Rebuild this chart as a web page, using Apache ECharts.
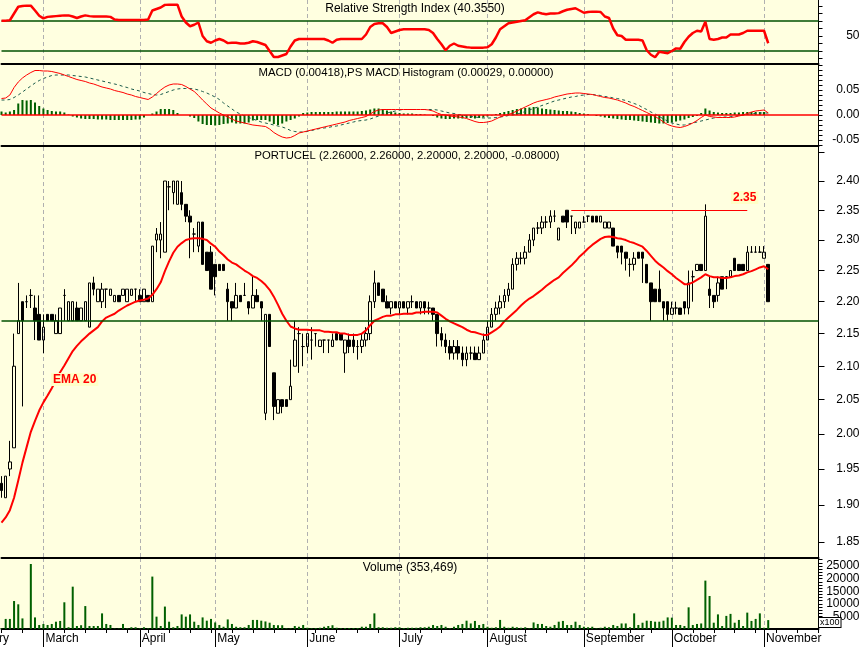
<!DOCTYPE html>
<html><head><meta charset="utf-8">
<script src="https://cdn.jsdelivr.net/npm/echarts@6/dist/echarts.min.js"></script>
<style>html,body{margin:0;padding:0;background:#fff}#c{width:864px;height:647px}</style>
</head><body><div id="c"></div>
<script>
// ---- calendar (trading days per month shown) ----
const monthNames = ['February','March','April','May','June','July','August','September','October','November'];
const monthDays  = [10,23,18,22,22,21,23,21,22,14];

// ---- price data (one value per trading day) ----
const opens = [1.93,1.91,1.95,1.98,2.15,2.20,2.20,2.21,2.19,2.18,
2.14,2.18,2.18,2.15,2.15,2.21,2.17,2.17,2.19,2.17,
2.17,2.16,2.23,2.20,2.20,2.22,2.21,2.20,2.21,2.21,
2.20,2.21,2.22,2.21,2.20,2.21,2.20,2.30,2.30,2.28,
2.39,2.38,2.36,2.38,2.36,2.34,2.31,2.29,2.33,2.28,
2.28,2.26,2.26,2.26,2.22,2.20,2.19,2.21,2.21,2.20,
2.19,2.21,2.20,2.03,2.18,2.09,2.03,2.05,2.05,2.05,
2.10,2.15,2.13,2.13,2.14,2.15,2.13,2.14,2.14,2.13,
2.15,2.15,2.12,2.14,2.14,2.13,2.13,2.14,2.15,2.20,
2.23,2.22,2.20,2.19,2.20,2.19,2.20,2.19,2.20,2.20,
2.19,2.20,2.19,2.19,2.18,2.15,2.14,2.13,2.12,2.13,
2.12,2.11,2.12,2.12,2.11,2.12,2.14,2.16,2.18,2.19,
2.20,2.21,2.22,2.26,2.27,2.27,2.28,2.30,2.32,2.32,
2.33,2.33,2.34,2.30,2.34,2.35,2.34,2.32,2.32,2.33,
2.34,2.34,2.34,2.33,2.32,2.32,2.32,2.29,2.29,2.28,
2.26,2.26,2.28,2.28,2.26,2.23,2.22,2.22,2.20,2.20,
2.18,2.19,2.19,2.20,2.19,2.24,2.25,2.26,2.25,2.22,
2.21,2.21,2.24,2.24,2.24,2.27,2.26,2.26,2.25,2.28,
2.28,2.28,2.27,2.26];
const highs = [1.94,1.94,1.99,2.15,2.23,2.20,2.21,2.22,2.21,2.21,
2.18,2.18,2.18,2.18,2.19,2.22,2.20,2.20,2.20,2.19,
2.20,2.23,2.24,2.22,2.23,2.22,2.22,2.21,2.21,2.22,
2.22,2.22,2.22,2.22,2.22,2.21,2.29,2.32,2.33,2.40,
2.40,2.40,2.40,2.40,2.36,2.35,2.32,2.33,2.33,2.28,
2.29,2.26,2.26,2.26,2.23,2.20,2.23,2.21,2.23,2.20,
2.24,2.22,2.20,2.18,2.18,2.09,2.05,2.05,2.05,2.11,
2.17,2.16,2.15,2.15,2.16,2.15,2.14,2.14,2.14,2.15,
2.15,2.15,2.14,2.15,2.15,2.14,2.15,2.16,2.21,2.25,
2.23,2.22,2.21,2.20,2.20,2.20,2.20,2.20,2.21,2.20,
2.20,2.20,2.20,2.19,2.18,2.16,2.15,2.14,2.14,2.14,
2.13,2.13,2.13,2.13,2.13,2.15,2.17,2.19,2.20,2.21,
2.22,2.23,2.27,2.28,2.28,2.29,2.31,2.32,2.33,2.34,
2.34,2.35,2.35,2.32,2.34,2.35,2.34,2.33,2.33,2.34,
2.34,2.34,2.34,2.34,2.33,2.33,2.32,2.29,2.29,2.28,
2.27,2.28,2.28,2.28,2.26,2.23,2.22,2.25,2.20,2.20,
2.20,2.20,2.19,2.20,2.25,2.25,2.26,2.26,2.36,2.24,
2.21,2.24,2.24,2.24,2.25,2.27,2.26,2.26,2.29,2.29,
2.29,2.29,2.29,2.26];
const lows = [1.91,1.91,1.94,1.98,2.15,2.04,2.19,2.19,2.14,2.14,
2.12,2.17,2.17,2.15,2.15,2.17,2.17,2.17,2.17,2.17,
2.17,2.16,2.21,2.20,2.19,2.19,2.21,2.20,2.20,2.21,
2.20,2.21,2.20,2.20,2.20,2.20,2.20,2.28,2.27,2.28,
2.35,2.36,2.36,2.35,2.33,2.27,2.28,2.28,2.26,2.25,
2.22,2.21,2.25,2.25,2.17,2.17,2.19,2.20,2.21,2.18,
2.19,2.20,2.17,2.02,2.13,2.02,2.03,2.03,2.04,2.05,
2.10,2.09,2.10,2.12,2.11,2.13,2.13,2.12,2.12,2.13,
2.14,2.14,2.09,2.12,2.12,2.11,2.12,2.13,2.14,2.19,
2.21,2.20,2.19,2.18,2.19,2.18,2.19,2.18,2.19,2.19,
2.18,2.18,2.18,2.17,2.13,2.13,2.12,2.11,2.11,2.11,
2.10,2.10,2.11,2.11,2.11,2.12,2.14,2.16,2.17,2.18,
2.19,2.20,2.22,2.25,2.26,2.26,2.28,2.29,2.31,2.31,
2.32,2.32,2.33,2.30,2.33,2.32,2.31,2.31,2.32,2.33,
2.33,2.33,2.33,2.33,2.32,2.32,2.29,2.27,2.26,2.25,
2.24,2.25,2.27,2.23,2.23,2.17,2.20,2.20,2.17,2.17,
2.18,2.18,2.18,2.18,2.18,2.20,2.25,2.25,2.25,2.19,
2.19,2.20,2.22,2.22,2.24,2.25,2.25,2.25,2.25,2.28,
2.28,2.28,2.27,2.20];
const closes = [1.92,1.94,1.96,2.10,2.17,2.17,2.20,2.21,2.17,2.14,
2.16,2.17,2.17,2.17,2.19,2.21,2.20,2.20,2.17,2.19,
2.20,2.23,2.22,2.22,2.22,2.22,2.22,2.21,2.20,2.22,
2.22,2.22,2.22,2.20,2.22,2.20,2.29,2.31,2.31,2.40,
2.39,2.40,2.40,2.36,2.34,2.33,2.31,2.33,2.26,2.25,
2.22,2.24,2.25,2.25,2.20,2.19,2.21,2.20,2.21,2.19,
2.21,2.20,2.19,2.18,2.13,2.04,2.05,2.04,2.04,2.07,
2.14,2.15,2.13,2.15,2.14,2.15,2.14,2.14,2.14,2.14,
2.14,2.14,2.14,2.13,2.13,2.13,2.14,2.15,2.20,2.23,
2.21,2.20,2.19,2.20,2.19,2.20,2.19,2.20,2.20,2.19,
2.20,2.19,2.19,2.18,2.15,2.14,2.13,2.12,2.13,2.12,
2.11,2.12,2.12,2.11,2.12,2.14,2.16,2.18,2.19,2.20,
2.21,2.22,2.26,2.27,2.27,2.28,2.30,2.32,2.32,2.33,
2.33,2.34,2.34,2.32,2.33,2.33,2.34,2.33,2.33,2.33,
2.34,2.33,2.33,2.34,2.33,2.33,2.29,2.28,2.28,2.27,
2.26,2.27,2.27,2.27,2.23,2.20,2.20,2.20,2.19,2.18,
2.19,2.19,2.18,2.19,2.23,2.24,2.26,2.25,2.34,2.21,
2.20,2.23,2.22,2.24,2.25,2.25,2.25,2.25,2.28,2.28,
2.28,2.28,2.28,2.20];
const ema20 = [1.876,1.883,1.893,1.910,1.934,1.959,1.981,2.003,2.019,2.034,
2.046,2.056,2.067,2.079,2.091,2.101,2.112,2.123,2.131,2.138,
2.144,2.150,2.155,2.160,2.169,2.175,2.178,2.181,2.186,2.190,
2.194,2.197,2.200,2.202,2.203,2.205,2.211,2.220,2.231,2.249,
2.265,2.279,2.289,2.295,2.300,2.302,2.303,2.303,2.302,2.300,
2.294,2.289,2.281,2.275,2.268,2.263,2.260,2.255,2.250,2.246,
2.241,2.238,2.233,2.227,2.219,2.208,2.195,2.181,2.170,2.161,
2.158,2.156,2.156,2.156,2.155,2.155,2.155,2.153,2.153,2.152,
2.152,2.150,2.150,2.148,2.148,2.148,2.150,2.155,2.163,2.170,
2.173,2.176,2.178,2.178,2.180,2.180,2.181,2.181,2.181,2.183,
2.183,2.184,2.184,2.184,2.183,2.178,2.173,2.169,2.166,2.163,
2.160,2.156,2.153,2.152,2.150,2.148,2.148,2.152,2.156,2.161,
2.169,2.175,2.181,2.187,2.194,2.200,2.205,2.209,2.214,2.219,
2.225,2.230,2.235,2.239,2.246,2.252,2.258,2.265,2.273,2.279,
2.286,2.292,2.297,2.302,2.305,2.306,2.305,2.303,2.302,2.300,
2.297,2.295,2.292,2.289,2.282,2.274,2.266,2.260,2.255,2.249,
2.244,2.238,2.233,2.228,2.228,2.231,2.235,2.239,2.244,2.241,
2.239,2.239,2.238,2.238,2.239,2.241,2.242,2.244,2.247,2.249,
2.252,2.255,2.257,2.252];
const volumes = [300,4000,4000,11100,9800,4200,100,25800,4600,1600,
2000,1600,2000,2900,3200,10600,700,16800,1200,1500,
9100,1200,1200,1200,6200,2000,1600,200,200,2000,
300,700,700,300,700,300,20800,4900,1200,8900,
2900,700,1200,5800,4900,5800,2900,1600,4600,3300,
4000,2600,1600,900,3800,2000,900,700,700,1600,
3600,3600,3300,3000,2500,1600,1500,1500,300,300,
1200,900,1600,500,300,400,500,900,1200,1500,
500,300,400,400,400,400,900,900,2000,6200,
700,700,500,500,700,700,400,500,500,500,
700,700,900,1600,1200,1600,900,300,900,1600,
2000,3300,2200,3200,1600,2000,900,500,700,3600,
900,500,900,700,500,700,300,2600,2000,2000,
1200,900,1600,2900,3200,1600,1600,2900,1600,900,
700,900,300,500,900,700,1600,1200,2200,2200,
700,6200,1600,2500,3300,3200,2900,2900,3300,4600,
4500,1600,1600,1200,8600,1600,2000,2200,19200,13100,
2500,5800,1200,5200,6000,2500,3600,1200,6500,3200,
4000,6200,500,3535];

// ---- indicators ----
const rsi = [70.5,70.5,71,80,89,90,90.5,90.5,84,77,
73.5,75.5,76,76.5,77,77.5,77.5,76,74,76,
77.5,76.5,76,76,76,76,75.5,72,71.3,71.3,
71.3,71.3,71.3,71.3,71.3,72,84,86,88,91.5,
91.8,91.8,91.8,76,68,63,65,68,50,43,
41,44,46,44,40.5,41,41,40,40,41,
43,42,40,38,30,22,22,24,26,36,
44,46,46,46,46,46,46,46,44,41,
45,46,46,46,46,46,46,52,62,66,
67,67,62,54,56,58,59,59,59,59,
59,59,58,54,46,39,31,37,40,37,
36,35,34.5,34.5,34.5,34.5,35,39,48,59,
63,67,68,69,70,71,75,79,81.5,80,
79,80,80,80.5,83,85,86,87,84,81,
82,82.5,82.5,82,76,74,60,51,50,45,
45,45,45,44,31,25,21.6,29,28,27,
30,33.5,33,42,49,54,57,56,69,46,
45,46,48,48,52,52,52,54,57,57,
57,57,57,40.355];
const macd = [.033,.034,.040,.055,.066,.074,.080,.085,.089,.089,
.088,.088,.087,.085,.083,.080,.077,.074,.071,.069,
.067,.064,.062,.059,.056,.054,.052,.049,.047,.045,
.042,.040,.037,.035,.033,.031,.036,.043,.050,.056,
.060,.062,.062,.061,.057,.052,.047,.039,.030,.022,
.014,.009,.004,.000,-.004,-.008,-.012,-.014,-.016,-.018,
-.020,-.021,-.022,-.023,-.028,-.035,-.040,-.044,-.046,-.045,
-.041,-.036,-.034,-.032,-.030,-.028,-.026,-.024,-.022,-.020,
-.018,-.016,-.014,-.011,-.009,-.007,-.005,-.003,.002,.007,
.010,.011,.011,.011,.011,.011,.011,.011,.011,.011,
.011,.011,.010,.008,.004,.001,.000,-.002,-.003,-.004,
-.005,-.007,-.010,-.013,-.015,-.015,-.014,-.012,-.008,-.004,
-.001,.001,.004,.008,.012,.016,.020,.024,.027,.029,
.031,.033,.036,.038,.040,.042,.043,.044,.044,.043,
.042,.041,.039,.037,.035,.034,.032,.030,.027,.024,
.020,.017,.013,.009,.005,.001,-.003,-.008,-.014,-.019,
-.022,-.024,-.025,-.023,-.020,-.016,-.011,-.005,.000,-.003,
-.004,-.005,-.005,-.005,-.005,-.004,-.002,.000,.003,.006,
.008,.009,.010,.00418];
const macdSignal = [.030,.030,.031,.035,.040,.046,.052,.058,.064,.069,
.073,.076,.079,.080,.080,.080,.080,.079,.078,.077,
.076,.074,.072,.070,.068,.066,.064,.062,.060,.057,
.055,.052,.050,.048,.045,.043,.041,.040,.041,.044,
.047,.050,.052,.053,.053,.053,.052,.050,.047,.044,
.040,.036,.031,.024,.018,.012,.006,.002,-.002,-.005,
-.008,-.011,-.014,-.016,-.018,-.020,-.022,-.024,-.027,-.031,
-.033,-.034,-.034,-.033,-.031,-.029,-.027,-.026,-.025,-.023,
-.022,-.020,-.018,-.016,-.014,-.012,-.011,-.010,-.008,-.005,
-.002,.002,.004,.006,.008,.010,.011,.011,.011,.011,
.011,.011,.011,.011,.010,.008,.006,.004,.003,.001,
.000,-.002,-.003,-.004,-.005,-.006,-.006,-.006,-.005,-.004,
-.003,-.001,.000,.002,.004,.007,.010,.013,.016,.019,
.022,.025,.028,.030,.032,.034,.036,.037,.039,.040,
.041,.041,.040,.039,.037,.036,.034,.033,.031,.029,
.026,.023,.020,.015,.011,.006,.002,-.003,-.008,-.012,
-.016,-.018,-.020,-.020,-.018,-.016,-.014,-.012,-.010,-.008,
-.006,-.005,-.004,-.004,-.003,-.002,-.001,.000,.001,.003,
.003,.004,.004,.0039];
const macdHist = [.007,.005,.007,.010,.023,.030,.029,.030,.025,.018,
.013,.010,.008,.007,.007,.005,.001,-.003,-.005,-.007,
-.008,-.008,-.008,-.009,-.009,-.009,-.010,-.010,-.010,-.010,
-.010,-.010,-.009,-.009,-.005,.000,.003,.007,.012,.012,
.012,.010,.004,.000,.000,-.003,-.006,-.013,-.018,-.020,
-.020,-.021,-.020,-.018,-.017,-.015,-.017,-.017,-.017,-.015,
-.011,-.010,-.010,-.010,-.013,-.018,-.020,-.017,-.013,-.010,
-.007,-.003,.004,.005,.006,.006,.006,.006,.006,.006,
.007,.007,.007,.007,.007,.007,.008,.009,.011,.013,
.013,.012,.009,.007,.005,.004,.003,.003,.003,.002,
.002,.001,.000,-.002,-.005,-.007,-.008,-.008,-.007,-.007,
-.007,-.006,-.006,-.007,-.006,-.005,-.003,-.001,.002,.004,
.006,.008,.010,.012,.013,.014,.015,.016,.015,.013,
.012,.011,.010,.009,.008,.008,.007,.006,.004,.003,
.002,.000,-.002,-.003,-.005,-.006,-.007,-.008,-.009,-.010,
-.010,-.011,-.012,-.013,-.014,-.015,-.016,-.017,-.017,-.016,
-.015,-.013,-.011,-.009,-.006,-.004,-.002,.004,.013,.009,
.006,.005,.004,.004,.004,.005,.005,.006,.006,.006,
.006,.006,.006,.0003];

// ---- reference levels & tick labels ----
const supportLevel = 2.173;
const resistanceLevel = 2.35;
const resistanceFrom = 136, resistanceTo = 178;
const rsiBands = [70, 30];
const rsiTicks = [20,30,40,50,60,70,80,90];
const rsiLabels = [50];
const macdLabels = [-0.05, 0, 0.05];
const macdTicks = [-0.06,-0.05,-0.04,-0.03,-0.02,-0.01,0,0.01,0.02,0.03,0.04,0.05,0.06,0.07,0.08,0.09,0.10];
const priceLabels = [2.40,2.35,2.30,2.25,2.20,2.15,2.10,2.05,2.00,1.95,1.90,1.85];
const priceTicks = [2.45,2.40,2.35,2.30,2.25,2.20,2.15,2.10,2.05,2.00,1.95,1.90,1.85];
const volLabels = [5000,10000,15000,20000,25000];
const volTicks = [1250,2500,3750,5000,6250,7500,8750,10000,11250,12500,13750,15000,16250,17500,18750,20000,21250,22500,23750,25000,26250,27500];

// ---- build categories ----
const cats = [];
const monthStart = new Set();
monthNames.forEach((m, k) => {
  monthStart.add(cats.length);
  for (let d = 1; d <= monthDays[k]; d++) cats.push(m + ' ' + d);
});
const isMonth = (i) => i > 0 && monthStart.has(i);
const candles = opens.map((o, i) => [o, closes[i], lows[i], highs[i]]);

const FONT = '"Liberation Sans", Arial, sans-serif';
const L = 1.5, R = 45.5;
const grids = [
  {left: L, right: R, top: 0, height: 64},
  {left: L, right: R, top: 65, height: 81},
  {left: L, right: R, top: 147, height: 411},
  {left: L, right: R, top: 558, height: 71}
];
const gridLine = {show: true, interval: (i) => isMonth(i), lineStyle: {color: '#b0b0b0', type: [4, 3], width: 1}};
function xa(gi, extra) {
  return Object.assign({
    type: 'category', gridIndex: gi, data: cats, boundaryGap: false, position: 'bottom',
    axisLine: {show: true, onZero: false, lineStyle: {color: '#000', width: 2}},
    axisTick: {show: false}, axisLabel: {show: false}, splitLine: gridLine
  }, extra || {});
}
function ya(gi, extra) {
  return Object.assign({
    gridIndex: gi, position: 'right', scale: true,
    axisLine: {show: true, lineStyle: {color: '#000', width: 1}},
    splitLine: {show: false}
  }, extra);
}
const lblStyle = {color: '#000', fontSize: 12, fontFamily: FONT, align: 'right', margin: 41};

const option = {
  animation: false,
  backgroundColor: '#ffffff',
  textStyle: {fontFamily: FONT},
  grid: grids,
  xAxis: [
    xa(0), xa(1), xa(2),
    xa(3, {
      axisTick: {show: true, interval: (i) => isMonth(i), length: 18, lineStyle: {color: '#000', width: 1}},
      axisLabel: {show: true, interval: (i) => isMonth(i), formatter: (v) => v.split(' ')[0],
        align: 'left', margin: 4, padding: [0, 0, 0, 2], color: '#000', fontSize: 12, fontFamily: FONT}
    }),
    xa(3, {
      axisLine: {show: false}, splitLine: {show: false},
      axisTick: {show: true, interval: (i) => i % 5 === 0, length: 4, lineStyle: {color: '#000'}}
    })
  ],
  yAxis: [
    ya(0, {type: 'value', min: 12.667, max: 98,
      axisTick: {show: true, customValues: rsiTicks, length: 4, lineStyle: {color: '#000'}},
      axisLabel: Object.assign({customValues: rsiLabels, formatter: (v) => String(v)}, lblStyle)}),
    ya(1, {type: 'value', min: -0.062, max: 0.10,
      axisTick: {show: true, customValues: macdTicks, length: 4, lineStyle: {color: '#000'}},
      axisLabel: Object.assign({customValues: macdLabels, formatter: (v) => v.toFixed(2)}, lblStyle)}),
    ya(2, {type: 'log', logBase: 10, min: 1.8288, max: 2.4596,
      axisTick: {show: true, customValues: priceTicks, length: 6, lineStyle: {color: '#000'}},
      axisLabel: Object.assign({customValues: priceLabels, formatter: (v) => Number(v).toFixed(2)}, lblStyle)}),
    ya(3, {type: 'value', min: 0, max: 28175,
      axisTick: {show: true, customValues: volTicks, length: 4, lineStyle: {color: '#000'}},
      axisLabel: Object.assign({customValues: volLabels, formatter: (v) => String(Math.round(v))}, lblStyle)})
  ],
  series: [
    {type: 'line', name: 'RSI', xAxisIndex: 0, yAxisIndex: 0, data: rsi, symbol: 'none', z: 5,
     lineStyle: {color: '#ff0000', width: 2.5},
     markLine: {silent: true, symbol: 'none', label: {show: false}, z: 3,
       lineStyle: {color: '#005000', width: 1.5, type: 'solid'},
       data: rsiBands.map(v => ({yAxis: v}))}},
    {type: 'bar', name: 'Histogram', xAxisIndex: 1, yAxisIndex: 1, data: macdHist, barWidth: 2,
     itemStyle: {color: '#006000'},
     markLine: {silent: true, symbol: 'none', label: {show: false},
       lineStyle: {color: '#ff0000', width: 1.5, type: 'solid'}, data: [{yAxis: 0}]}},
    {type: 'line', name: 'Signal', xAxisIndex: 1, yAxisIndex: 1, data: macdSignal, symbol: 'none',
     lineStyle: {color: '#1a5a4a', width: 1, type: [3, 3]}},
    {type: 'line', name: 'MACD', xAxisIndex: 1, yAxisIndex: 1, data: macd, symbol: 'none',
     lineStyle: {color: '#ff0000', width: 1}},
    {type: 'candlestick', name: 'PORTUCEL', xAxisIndex: 2, yAxisIndex: 2, data: candles, barWidth: 3,
     itemStyle: {color: 'rgba(0,0,0,0)', color0: '#000', borderColor: '#000', borderColor0: '#000', borderWidth: 1},
     markLine: {silent: true, symbol: 'none', label: {show: false},
       data: [
         {yAxis: supportLevel, lineStyle: {color: '#005000', width: 1.5, type: 'solid'}},
         [{coord: [resistanceFrom, resistanceLevel], lineStyle: {color: '#ff0000', width: 1, type: 'solid'}},
          {coord: [resistanceTo, resistanceLevel]}]
       ]}},
    {type: 'line', name: 'EMA 20', xAxisIndex: 2, yAxisIndex: 2, data: ema20, symbol: 'none', z: 4,
     lineStyle: {color: '#ff0000', width: 2}},
    {type: 'bar', name: 'Volume', xAxisIndex: 3, yAxisIndex: 3, data: volumes, barWidth: 2,
     itemStyle: {color: '#006000'}}
  ],
  graphic: [
    {type: 'rect', z: -100, silent: true, shape: {x: 0, y: 0, width: 818, height: 629}, style: {fill: '#ffffe0'}},
    {type: 'text', x: 415, y: 3, z: 10, style: {text: 'Relative Strength Index (40.3550)', fill: '#000', font: '12px ' + FONT, align: 'center', verticalAlign: 'top'}},
    {type: 'text', x: 406, y: 67, z: 10, style: {text: 'MACD (0.00418),PS MACD Histogram (0.00029, 0.00000)', fill: '#000', font: '11.4px ' + FONT, align: 'center', verticalAlign: 'top'}},
    {type: 'text', x: 407, y: 150, z: 10, style: {text: 'PORTUCEL (2.26000, 2.26000, 2.20000, 2.20000, -0.08000)', fill: '#000', font: '11.3px ' + FONT, align: 'center', verticalAlign: 'top'}},
    {type: 'text', x: 410, y: 562, z: 10, style: {text: 'Volume (353,469)', fill: '#000', font: '12px ' + FONT, align: 'center', verticalAlign: 'top'}},
    {type: 'text', x: 51, y: 373, z: 10, style: {text: 'EMA 20', fill: '#ff0000', font: 'bold 12px ' + FONT, backgroundColor: '#ffffc8', padding: [1, 2, 0, 2], align: 'left', verticalAlign: 'top'}},
    {type: 'text', x: 731, y: 191, z: 10, style: {text: '2.35', fill: '#ff0000', font: 'bold 12px ' + FONT, backgroundColor: '#ffffc8', padding: [1, 2, 0, 2], align: 'left', verticalAlign: 'top'}},
    {type: 'text', x: -39, y: 633, z: 10, style: {text: 'February', fill: '#000', font: '12px ' + FONT, align: 'left', verticalAlign: 'top'}},
    {type: 'text', x: 819, y: 618, z: 10, style: {text: 'x100', fill: '#000', font: '9px ' + FONT, backgroundColor: '#fff', borderColor: '#000', borderWidth: 1, padding: [0, 1, 0, 1], align: 'left', verticalAlign: 'top'}}
  ]
};
const chart = echarts.init(document.getElementById('c'), null, {renderer: 'canvas'});
chart.setOption(option);
</script>
</body></html>
